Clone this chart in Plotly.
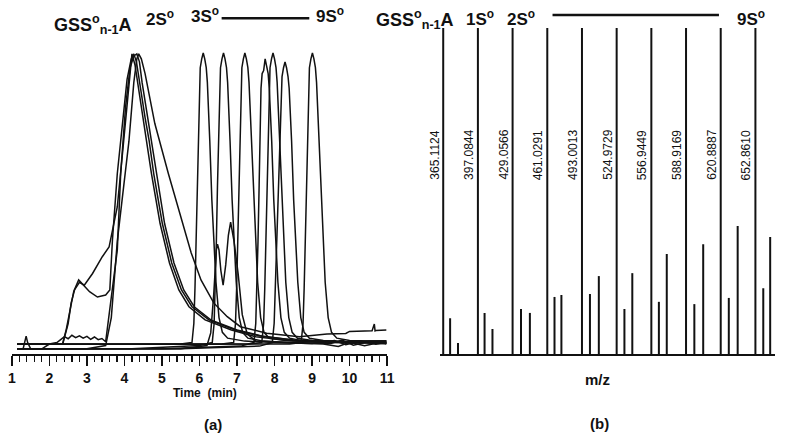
import plotly.graph_objects as go

# ---------------- (a) chromatogram data: time (min) vs relative intensity (%) ----------------
t_gssa1 = [1.14, 1.6, 2.0, 2.3, 2.36, 2.50, 2.58, 2.67, 2.80, 2.93, 3.15, 3.41, 3.59, 3.81, 3.94, 4.07, 4.16, 4.20, 4.28, 4.35, 4.50, 4.60, 4.72, 4.95, 5.20, 5.45, 5.72, 6.15, 6.85, 7.5, 8.5, 9.5, 10.5, 10.98]
i_gssa1 = [0.9, 0.9, 0.9, 1.0, 1.2, 8, 15, 19.4, 22, 21, 25, 30.7, 34, 47.7, 64.7, 81.7, 95, 99.7, 96, 90, 78, 70, 59, 42, 28.6, 19.4, 13.7, 9.2, 5.8, 3.5, 2.0, 1.6, 1.4, 1.4]

t_gssa2 = [1.14, 1.6, 2.0, 2.35, 2.45, 2.55, 2.65, 2.78, 2.90, 3.07, 3.28, 3.50, 3.61, 3.68, 3.81, 3.94, 4.07, 4.18, 4.25, 4.32, 4.40, 4.55, 4.66, 4.78, 5.01, 5.26, 5.52, 5.80, 6.25, 6.95, 7.6, 8.5, 9.5, 10.5, 10.98]
i_gssa2 = [0.9, 0.9, 0.9, 1.0, 6, 13, 19, 22.8, 21, 18.8, 17, 17.7, 19.4, 36.4, 59, 76, 91, 98, 99.7, 97, 90, 78, 70, 59, 42, 28.6, 19.4, 13.7, 9.2, 5.8, 3.8, 2.4, 1.8, 1.6, 1.6]

t_gssa3 = [1.14, 1.3, 1.38, 1.42, 1.5, 1.8, 2.0, 2.2, 2.3, 2.4, 2.5, 2.6, 2.7, 2.8, 2.9, 3.0, 3.1, 3.2, 3.3, 3.4, 3.5, 3.81, 3.90, 4.03, 4.15, 4.25, 4.33, 4.40, 4.47, 4.62, 4.72, 4.84, 5.07, 5.32, 5.58, 5.86, 6.3, 7.0, 7.7, 8.6, 9.5, 10.5, 10.98]
i_gssa3 = [-0.6, -0.6, 3.7, 1.5, -0.6, -0.6, 1.0, 1.5, 2.5, 3.5, 2.8, 4.0, 3.2, 3.8, 3.0, 3.6, 2.6, 3.4, 2.5, 2.9, 1.8, 33, 59, 81.7, 95, 99, 99.7, 97, 90, 78, 70, 59, 42, 28.6, 19.4, 13.7, 9.2, 5.8, 3.6, 2.2, 1.8, 1.5, 1.5]

t_gssa4 = [1.14, 2.0, 3.0, 3.50, 3.65, 3.81, 4.12, 4.25, 4.33, 4.38, 4.45, 4.55, 4.81, 5.17, 5.51, 5.78, 6.04, 6.38, 6.74, 7.09, 7.79, 8.66, 9.4, 9.9, 10.0, 10.6, 10.66, 10.68, 10.70, 10.98]
i_gssa4 = [-0.6, -0.6, -0.6, 0.5, 10, 36, 70, 90, 98, 99.7, 98, 93, 76, 59, 44, 32, 22.8, 15, 10.3, 6.9, 4.7, 3.5, 4.4, 4.6, 5.3, 5.5, 7.8, 5.5, 5.6, 5.8]

t_dbl = [1.14, 3.0, 5.5, 6.20, 6.30, 6.38, 6.45, 6.48, 6.52, 6.57, 6.63, 6.70, 6.77, 6.83, 6.87, 6.92, 7.03, 7.14, 7.27, 7.5, 8.5, 9.5, 9.8, 10.1, 10.5, 10.98]
i_dbl = [-0.6, -0.6, -0.6, 0.5, 4.8, 18, 33, 35, 33, 26, 21, 28, 38, 42.5, 40, 36, 25, 11, 4.5, 2.0, 1.5, 1.2, 2.4, 0.6, 1.8, 1.0]

t_s3 = [1.14, 3.0, 4.2, 5.5, 5.80, 5.85, 5.88, 5.91, 5.94, 5.97, 5.99, 6.02, 6.06, 6.10, 6.14, 6.18, 6.21, 6.245, 6.275, 6.33, 6.38, 6.44, 6.52, 6.61, 6.75, 7.2, 8.0, 9.0, 9.6, 9.9, 10.3, 10.7, 10.98]
i_s3 = [0.9, 0.9, 0.9, 1.0, 1.5, 8, 20, 36, 55, 70, 86, 95, 98, 100, 98, 95, 90, 80, 70, 50, 36, 22, 10, 5, 3, 2.0, 1.5, 1.2, 2.2, 0.8, 2.0, 0.9, 1.4]

t_s4 = [1.14, 3.0, 4.2, 6.0, 6.34, 6.39, 6.42, 6.45, 6.48, 6.51, 6.53, 6.56, 6.60, 6.64, 6.68, 6.72, 6.75, 6.785, 6.815, 6.87, 6.92, 6.98, 7.06, 7.15, 7.29, 7.7, 8.5, 9.3, 9.7, 10.0, 10.4, 10.8, 10.98]
i_s4 = [-0.6, -0.6, -0.6, 0.5, 1.5, 8, 20, 36, 55, 70, 86, 95, 98, 100, 98, 95, 90, 80, 70, 50, 36, 22, 10, 5, 3, 2.0, 1.4, 1.0, 0.2, 1.6, 0.4, 1.5, 1.2]

t_s5 = [1.14, 3.0, 5.0, 6.6, 6.91, 6.96, 6.99, 7.02, 7.05, 7.08, 7.10, 7.13, 7.17, 7.21, 7.25, 7.29, 7.32, 7.355, 7.385, 7.44, 7.49, 7.55, 7.63, 7.72, 7.86, 8.3, 9.0, 10.0, 10.98]
i_s5 = [0.9, 0.9, 0.9, 1.0, 1.5, 8, 20, 36, 55, 70, 86, 95, 98, 100, 98, 95, 90, 80, 70, 50, 36, 22, 10, 5, 3, 2.2, 1.8, 1.6, 1.6]

t_s6 = [1.14, 3.0, 5.0, 7.1, 7.45, 7.50, 7.53, 7.56, 7.59, 7.62, 7.64, 7.67, 7.71, 7.75, 7.79, 7.83, 7.86, 7.895, 7.925, 7.98, 8.03, 8.09, 8.17, 8.26, 8.40, 8.8, 9.5, 10.3, 10.98]
i_s6 = [-0.6, -0.6, -0.6, 0.3, 1.5, 8, 20, 36, 55, 72, 88, 93, 94, 98, 96, 93, 88, 79, 70, 50, 36, 22, 10, 5, 3, 2.0, 1.5, 1.3, 1.3]

t_s7 = [1.14, 3.0, 5.5, 7.3, 7.66, 7.71, 7.74, 7.77, 7.80, 7.83, 7.85, 7.88, 7.92, 7.96, 8.00, 8.04, 8.07, 8.105, 8.135, 8.19, 8.24, 8.30, 8.38, 8.47, 8.61, 9.0, 9.7, 10.4, 10.98]
i_s7 = [0.9, 0.9, 0.9, 1.0, 1.5, 8, 20, 36, 55, 70, 86, 95, 98, 100, 98, 95, 90, 80, 70, 50, 36, 22, 10, 5, 3, 2.2, 1.8, 2.0, 2.0]

t_s8 = [1.14, 3.0, 5.5, 7.6, 7.94, 7.99, 8.02, 8.06, 8.10, 8.14, 8.17, 8.20, 8.24, 8.28, 8.32, 8.36, 8.39, 8.425, 8.455, 8.51, 8.56, 8.62, 8.70, 8.79, 8.93, 9.3, 10.0, 10.5, 10.98]
i_s8 = [-0.6, -0.6, -0.6, 0.3, 1.5, 8, 20, 36, 55, 70, 85, 92, 95, 97, 95, 92, 88, 79, 70, 50, 36, 22, 10, 5, 3, 2.2, 1.7, 2.0, 2.0]

t_s9 = [1.14, 3.0, 6.0, 8.4, 8.71, 8.76, 8.79, 8.82, 8.85, 8.88, 8.90, 8.93, 8.97, 9.01, 9.05, 9.09, 9.12, 9.155, 9.185, 9.24, 9.29, 9.35, 9.43, 9.52, 9.66, 10.0, 10.5, 10.98]
i_s9 = [0.9, 0.9, 0.9, 1.0, 1.5, 8, 20, 36, 55, 70, 86, 95, 98, 100, 98, 95, 90, 80, 70, 50, 36, 22, 10, 5, 3, 2.2, 2.0, 2.0]

time_ticks = [1, 2, 3, 4, 5, 6, 7, 8, 9, 10, 11]

# ---------------- (b) mass spectrum data ----------------
main_mz = [365.1124, 397.0844, 429.0566, 461.0291, 493.0013, 524.9729, 556.9449, 588.9169, 620.8887, 652.8610]
main_int = [100, 100, 100, 100, 100, 100, 100, 100, 100, 100]
main_labels = ["365.1124", "397.0844", "429.0566", "461.0291", "493.0013",
               "524.9729", "556.9449", "588.9169", "620.8887", "652.8610"]
iso1_mz = [371.47, 403.23, 436.82, 467.68, 500.36, 532.13, 563.89, 596.57, 628.34, 660.11]
iso1_int = [11.0, 12.6, 13.8, 17.5, 18.4, 13.8, 16.0, 15.3, 17.2, 20.2]
iso2_mz = [378.73, 410.50, 444.99, 474.04, 508.53, 539.39, 571.15, 604.74, 636.51, 666.47]
iso2_int = [3.4, 7.7, 12.6, 18.1, 23.9, 24.8, 30.7, 33.7, 39.3, 35.9]

W, H = 789, 435
def px(x):
    return x / W
def py(y):
    return 1 - y / H

LINE = "#111111"
fig = go.Figure()

chrom = [(t_gssa1, i_gssa1), (t_gssa2, i_gssa2), (t_gssa3, i_gssa3), (t_gssa4, i_gssa4),
         (t_dbl, i_dbl), (t_s3, i_s3), (t_s4, i_s4), (t_s5, i_s5), (t_s6, i_s6),
         (t_s7, i_s7), (t_s8, i_s8), (t_s9, i_s9)]
for tt, ii in chrom:
    fig.add_trace(go.Scatter(x=tt, y=ii, mode="lines", line=dict(color=LINE, width=1.5),
                             xaxis="x", yaxis="y", showlegend=False, hoverinfo="skip"))

def sticks(mz, inten):
    xs, ys = [], []
    for m, v in zip(mz, inten):
        xs += [m, m, None]
        ys += [0, v, None]
    return xs, ys

for mz, inten in [(main_mz, main_int), (iso1_mz, iso1_int), (iso2_mz, iso2_int)]:
    xs, ys = sticks(mz, inten)
    fig.add_trace(go.Scatter(x=xs, y=ys, mode="lines", line=dict(color=LINE, width=2),
                             xaxis="x2", yaxis="y2", showlegend=False, hoverinfo="skip"))

FONT = "Liberation Sans, Arial, sans-serif"
ann = []
for m, lab in zip(main_mz, main_labels):
    ann.append(dict(x=m, y=py(182), xref="x2", yref="paper", text=lab, textangle=-90,
                    showarrow=False, xshift=-9, font=dict(family=FONT, size=12, color="#111"),
                    xanchor="center", yanchor="bottom"))

def head(x, y, text, size=17):
    ann.append(dict(x=px(x), y=py(y), xref="paper", yref="paper", text=text, showarrow=False,
                    font=dict(family=FONT, size=size, color="#111", weight="bold"),
                    xanchor="center", yanchor="middle"))

head(90.5, 24, "GSS<sup>o</sup><sub>n-1</sub>A", 18)
head(158, 18, "2S<sup>o</sup>")
head(204.5, 15, "3S<sup>o</sup>")
head(331, 15, "9S<sup>o</sup>")
head(417, 20, "GSS<sup>o</sup><sub>n-1</sub>A", 18)
head(483.5, 18, "1S<sup>o</sup>")
head(525, 18, "2S<sup>o</sup>")
head(758.5, 18, "9S<sup>o</sup>")
head(204, 393, "Time  (min)", 12)
head(603, 379, "m/z", 15)
head(212, 424, "(a)", 15)
head(605, 423, "(b)", 15)

shapes = [
    dict(type="line", xref="paper", yref="paper", x0=px(221), x1=px(310), y0=py(18.3), y1=py(18.3),
         line=dict(color="#111", width=2.5)),
    dict(type="line", xref="paper", yref="paper", x0=px(557), x1=px(726), y0=py(15), y1=py(15),
         line=dict(color="#111", width=2.5)),
]

fig.update_layout(
    width=W, height=H, margin=dict(l=0, r=0, t=0, b=0),
    paper_bgcolor="white", plot_bgcolor="rgba(0,0,0,0)",
    annotations=ann, shapes=shapes, showlegend=False,
    xaxis=dict(domain=[px(8), px(389)], range=[1, 11], tickvals=time_ticks,
               ticks="outside", ticklen=10, tickwidth=1.5, tickcolor="#111",
               minor=dict(dtick=0.2, ticks="outside", ticklen=6, tickwidth=1.2, tickcolor="#111"),
               showline=True, linewidth=2, linecolor="#111", showgrid=False, zeroline=False,
               tickfont=dict(family=FONT, size=14, color="#111", weight="bold"), anchor="y"),
    yaxis=dict(domain=[(H - 354) / H, (H - 40) / H], range=[-2.38, 104.42], visible=False,
               showgrid=False, zeroline=False, anchor="x"),
    xaxis2=dict(domain=[px(443), px(783)], range=[362.39, 671.0], showticklabels=False,
                ticks="", showline=True, linewidth=2, linecolor="#111", showgrid=False,
                zeroline=False, anchor="y2"),
    yaxis2=dict(domain=[(H - 354) / H, (H - 28) / H], range=[0, 100], visible=False,
                showgrid=False, zeroline=False, anchor="x2"),
)

fig.write_html("out.html", config={"displayModeBar": False, "staticPlot": True},
               post_script="document.body.style.margin='0';document.body.style.overflow='hidden';")
